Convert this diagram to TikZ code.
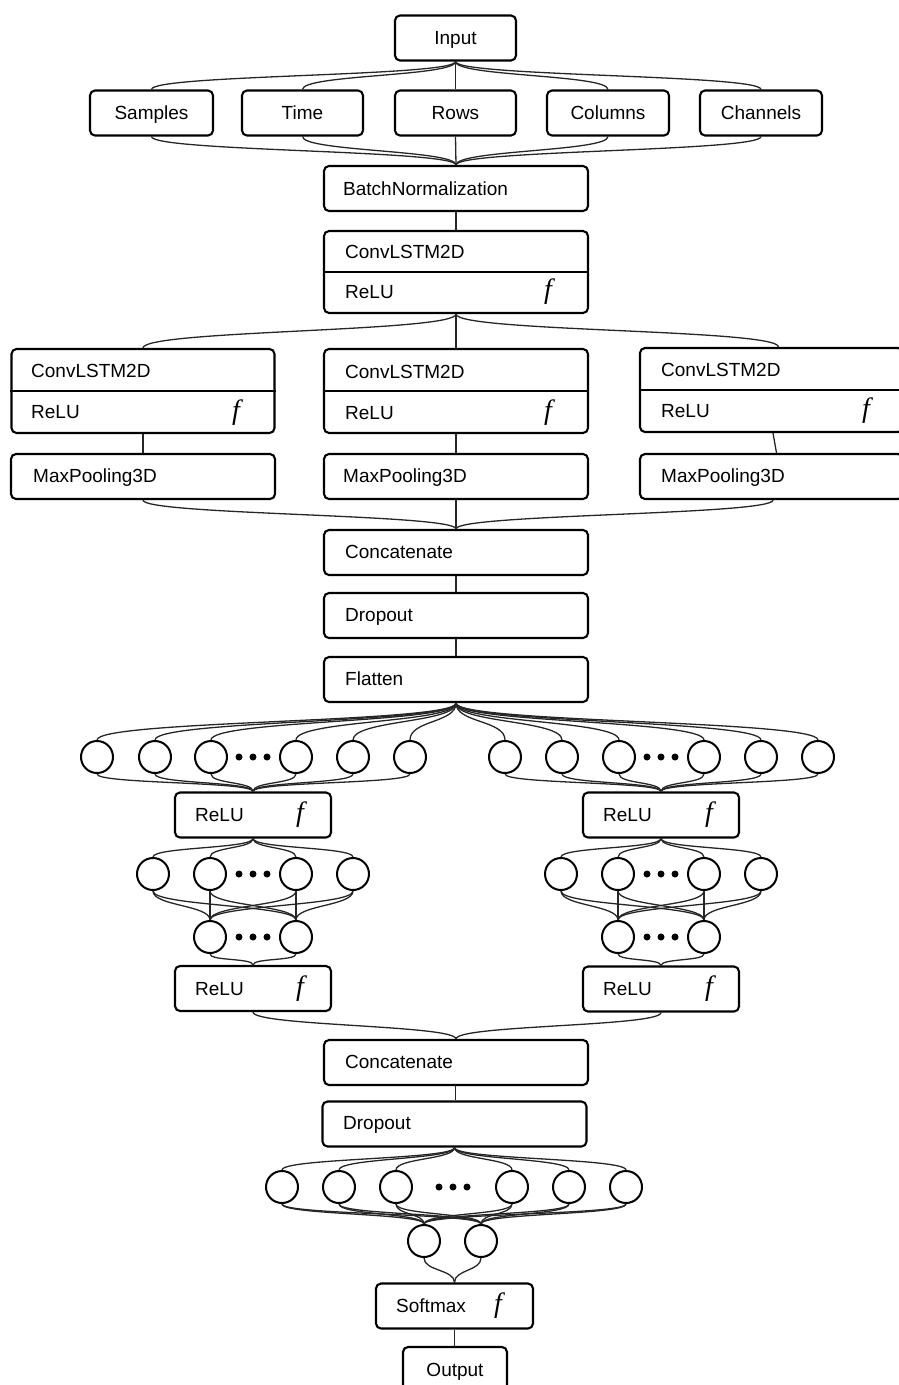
\documentclass[tikz,border=0pt]{standalone}
\usepackage{fontspec}
\setmainfont{Liberation Sans}
\newfontfamily\fserif{Liberation Serif}
\usetikzlibrary{calc}
\newcommand\fanto[3]{\draw[conn] (#1) .. controls +(0,#3) and +(0,-#3) .. (#2);}
\begin{document}
\begin{tikzpicture}[x=1pt,y=-1pt,
  box/.style={draw, line width=2.1pt, rounded corners=5pt, minimum height=45pt, inner sep=0pt,
    font=\fontsize{19}{22}\selectfont, text height=13.6pt, text depth=0pt},
  wbox/.style={box, minimum width=264pt},
  conn/.style={line width=1.3pt, draw=black!85},
  neuron/.style={draw, circle, line width=2pt, minimum size=32pt, inner sep=0pt},
  lbl/.style={anchor=west, inner sep=0pt, font=\fontsize{19}{22}\selectfont, text height=13.6pt, text depth=0pt},
  fsym/.style={inner sep=0pt, font=\fserif\itshape\fontsize{28}{28}\selectfont},
  dotn/.style={circle, fill, minimum size=7pt, inner sep=0pt},
  divl/.style={line width=2.1pt},
]
\useasboundingbox (0,0) rectangle (898,1385);

% ---- top ----
\node[box, minimum width=121pt] (in) at (455.5,38) {Input};
\node[box, minimum width=123pt] (sa) at (151.5,113) {Samples};
\node[box, minimum width=121pt] (ti) at (302.5,113) {Time};
\node[box, minimum width=121pt] (ro) at (455.5,113) {Rows};
\node[box, minimum width=122pt] (co) at (608,113) {Columns};
\node[box, minimum width=122pt] (ch) at (761,113) {Channels};
\node[wbox] (bn) at (456,188.5) {};
\node[lbl] (bnt) at (343,188.5) {BatchNormalization};

\foreach \n in {sa,ti,ro,co,ch} {\fanto{in.south}{\n.north}{15}}
\foreach \n in {sa,ti,ro,co,ch} {\fanto{\n.south}{bn.north}{15}}

% ---- first ConvLSTM2D ----
\node[wbox, minimum height=82pt] (c0) at (456,272) {};
\draw[divl] (c0.west) -- (c0.east);
\node[lbl] (c0a) at (345,252) {ConvLSTM2D};
\node[lbl] (c0b) at (345,292) {ReLU};
\node[fsym] (c0f) at (548,292) {f};
\draw[conn] (bn.south) -- (c0.north);

% ---- branches ----
\node[box, minimum width=263pt, minimum height=84pt] (bl) at (143,391) {};
\node[wbox, minimum height=84pt] (bm) at (456,391) {};
\node[box, minimum width=263pt, minimum height=84pt] (br) at (771.5,390) {};
\draw[divl] (bl.west) -- (bl.east);
\draw[divl] (bm.west) -- (bm.east);
\draw[divl] (br.west) -- (br.east);
\node[lbl] (bla) at (31,371) {ConvLSTM2D};
\node[lbl] (blb) at (31,412) {ReLU};
\node[fsym] (blf) at (236,413) {f};
\node[lbl] (bma) at (345,372) {ConvLSTM2D};
\node[lbl] (bmb) at (345,413) {ReLU};
\node[fsym] (bmf) at (548,413) {f};
\node[lbl] (bra) at (661,370) {ConvLSTM2D};
\node[lbl] (brb) at (661,411) {ReLU};
\node[fsym] (brf) at (866,411) {f};

\fanto{c0.south}{bl.north}{18}
\fanto{c0.south}{bm.north}{18}
\fanto{c0.south}{[xshift=7pt]br.north}{18}

\node[wbox] (ml) at (143,476.5) {};
\node[wbox] (mm) at (456,476.5) {};
\node[box, minimum width=263pt] (mr) at (771.5,476.5) {};
\node[lbl] (mlt) at (33,476) {MaxPooling3D};
\node[lbl] (mmt) at (343,476) {MaxPooling3D};
\node[lbl] (mrt) at (661,476) {MaxPooling3D};
\draw[conn] (bl.south) -- (ml.north);
\draw[conn] (bm.south) -- (mm.north);
\draw[conn] ([xshift=1.5pt]br.south) -- ([xshift=5pt]mr.north);

% ---- concat / dropout / flatten ----
\node[wbox] (cc) at (456,552.5) {};
\node[lbl] (cct) at (345,552) {Concatenate};
\node[wbox] (dr) at (456,615.5) {};
\node[lbl] (drt) at (345,615) {Dropout};
\node[wbox] (fl) at (456,679.5) {};
\node[lbl] (flt) at (345,679) {Flatten};
\fanto{ml.south}{cc.north}{15}
\fanto{mm.south}{cc.north}{15}
\fanto{[xshift=1.5pt]mr.south}{cc.north}{15}
\draw[conn] (cc.south) -- (dr.north);
\draw[conn] (dr.south) -- (fl.north);

% ---- dense layer 1 ----
\foreach \x [count=\i] in {97,155,211,296,353,410} \node[neuron] (a\i) at (\x,757) {};
\foreach \x [count=\i] in {505,562,619,704,761,818} \node[neuron] (b\i) at (\x,757) {};
\foreach \x [count=\i] in {239,253,267} \node[dotn] (ad\i) at (\x,757) {};
\foreach \x [count=\i] in {647,661,675} \node[dotn] (bd\i) at (\x,757) {};
\foreach \i in {1,...,6} {\fanto{fl.south}{a\i.north}{20}\fanto{fl.south}{b\i.north}{20}}

\node[box, minimum width=156pt] (ra) at (253,815) {};
\node[lbl] (rat) at (195,815) {ReLU};
\node[fsym] (raf) at (300,815) {f};
\node[box, minimum width=156pt] (sa1) at (661,815) {};
\node[lbl] (sat) at (603,815) {ReLU};
\node[fsym] (saf) at (709,815) {f};
\foreach \i in {1,...,6} {\fanto{a\i.south}{ra.north}{10}\fanto{b\i.south}{sa1.north}{10}}

% ---- dense layer 2 ----
\foreach \x [count=\i] in {153,210,296,353} \node[neuron] (p\i) at (\x,874) {};
\foreach \x [count=\i] in {561,618,704,761} \node[neuron] (q\i) at (\x,874) {};
\foreach \x [count=\i] in {239,253,267} \node[dotn] (pd\i) at (\x,874) {};
\foreach \x [count=\i] in {647,661,675} \node[dotn] (qd\i) at (\x,874) {};
\foreach \i in {1,...,4} {\fanto{ra.south}{p\i.north}{10}\fanto{sa1.south}{q\i.north}{10}}

% ---- dense layer 3 ----
\foreach \x [count=\i] in {210,296} \node[neuron] (u\i) at (\x,937) {};
\foreach \x [count=\i] in {618,704} \node[neuron] (v\i) at (\x,937) {};
\foreach \x [count=\i] in {239,253,267} \node[dotn] (ud\i) at (\x,937) {};
\foreach \x [count=\i] in {647,661,675} \node[dotn] (vd\i) at (\x,937) {};
\foreach \i in {1,...,4} {\foreach \j in {1,2} {\fanto{p\i.south}{u\j.north}{15}\fanto{q\i.south}{v\j.north}{15}}}

\node[box, minimum width=156pt] (rb) at (253,988.5) {};
\node[lbl] (rbt) at (195,988.5) {ReLU};
\node[fsym] (rbf) at (300,988.5) {f};
\node[box, minimum width=156pt] (sb) at (661,989) {};
\node[lbl] (sbt) at (603,989) {ReLU};
\node[fsym] (sbf) at (709,989) {f};
\foreach \j in {1,2} {\fanto{u\j.south}{rb.north}{7}\fanto{v\j.south}{sb.north}{7}}

% ---- concat 2 / dropout 2 ----
\node[wbox] (cc2) at (456,1062.5) {};
\node[lbl] (cc2t) at (345,1062) {Concatenate};
\node[wbox] (dr2) at (454.5,1124) {};
\node[lbl] (dr2t) at (343,1123) {Dropout};
\fanto{rb.south}{cc2.north}{14}
\fanto{sb.south}{cc2.north}{14}
\draw[conn] ([xshift=-0.5pt]cc2.south) -- ([xshift=-0.5pt]cc2.south |- dr2.north);

% ---- dense layer 4 / 5 ----
\foreach \x [count=\i] in {282,339,396,512,569,626} \node[neuron] (w\i) at (\x,1187) {};
\foreach \x [count=\i] in {439,453,467} \node[dotn] (wd\i) at (\x,1187) {};
\foreach \i in {1,...,6} {\fanto{dr2.south}{w\i.north}{12}}
\foreach \x [count=\i] in {424,481} \node[neuron] (z\i) at (\x,1241) {};
\foreach \i in {1,...,6} {\foreach \j in {1,2} {\fanto{w\i.south}{z\j.north}{11}}}

\node[box, minimum width=157pt] (sm) at (454.5,1306) {};
\node[lbl] (smt) at (396,1306) {Softmax};
\node[fsym] (smf) at (498,1306) {f};
\foreach \j in {1,2} {\fanto{z\j.south}{sm.north}{13}}

\node[box, minimum width=104pt] (out) at (455,1369.5) {Output};
\draw[conn] (sm.south) -- (sm.south |- out.north);
\end{tikzpicture}
\end{document}
